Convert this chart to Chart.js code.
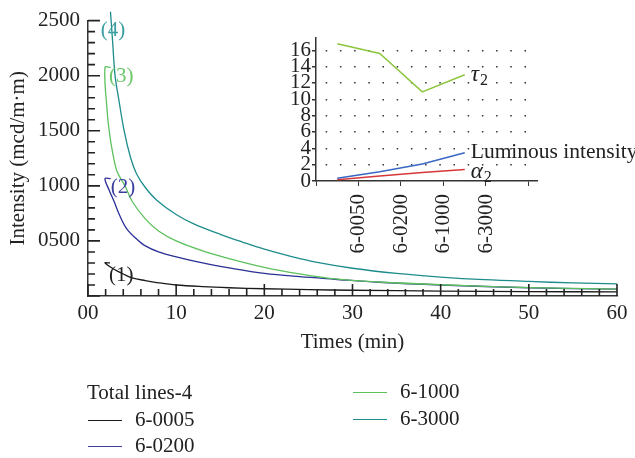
<!DOCTYPE html>
<html>
<head>
<meta charset="utf-8">
<script src="https://cdn.jsdelivr.net/npm/chart.js@4.4.0/dist/chart.umd.min.js"></script>
<style>
html, body { margin: 0; padding: 0; background: #fff; }
#wrap { position: relative; width: 635px; height: 458px; overflow: hidden; font-family: 'Liberation Serif', serif; color: #222; }
#main { position: absolute; left: 0; top: 0; }
#inset { position: absolute; left: 280px; top: 20px; }
.lg { position: absolute; font-size: 21px; line-height: 21px; white-space: nowrap; }
.sw { position: absolute; width: 34px; height: 0; border-top: 1.5px solid; }
</style>
</head>
<body>
<div id="wrap">
  <canvas id="main" width="635" height="458"></canvas>
  <canvas id="inset" width="355" height="250"></canvas>
  <div class="lg" style="left:87px; top:382px;">Total lines-4</div>
  <div class="sw" style="left:88px; top:420px; border-color:#1a1a1a;"></div>
  <div class="lg" style="left:135px; top:409px;">6-0005</div>
  <div class="sw" style="left:88px; top:446px; border-color:#3b3f9e;"></div>
  <div class="lg" style="left:135px; top:435px;">6-0200</div>
  <div class="sw" style="left:353px; top:392px; border-color:#5cc05c;"></div>
  <div class="lg" style="left:400px; top:381px;">6-1000</div>
  <div class="sw" style="left:353px; top:419px; border-color:#1e8c8c;"></div>
  <div class="lg" style="left:400px; top:408px;">6-3000</div>
</div>
<script>
Chart.defaults.font.family = "'Liberation Serif', serif";
Chart.defaults.color = '#222';

/* ── Main decay curves (time in min, intensity in mcd/m·m) ── */
const X_0005 = [2.5, 1.93, 3, 4, 5, 6.5, 8, 10, 13, 16, 20, 25, 30, 40, 50, 60];
const Y_0005 = [300, 300, 240, 200, 165, 140, 120, 100, 85, 75, 66, 58, 52, 45, 40, 38];

const X_0200 = [2.57, 1.93, 2.4, 2.95, 3.6, 4.4, 5.6, 6.4, 8, 9.8, 13, 16, 20, 24, 28, 33, 40, 50, 60];
const Y_0200 = [1065, 1065, 960, 860, 730, 610, 510, 460, 400, 360, 300, 255, 205, 175, 152, 125, 100, 75, 62];

const X_1000 = [2.57, 1.93, 2.15, 2.4, 2.8, 3.3, 4.2, 5, 6.5, 8, 10, 13, 16, 20, 24, 28, 33, 40, 50, 60];
const Y_1000 = [2075, 2075, 1700, 1500, 1300, 1130, 1000, 860, 700, 590, 500, 410, 340, 260, 200, 155, 127, 102, 76, 63];

const X_3000 = [2.55, 2.8, 3.07, 3.5, 4.1, 4.85, 5.5, 6.5, 7.8, 10, 12, 15, 17.5, 20, 23, 26, 30, 35, 40, 45, 50, 55, 60];
const Y_3000 = [2580, 2300, 2000, 1780, 1500, 1250, 1110, 985, 870, 740, 655, 560, 490, 425, 360, 305, 252, 205, 172, 148, 132, 119, 110];

/* ── Inset: fit parameters per sample ── */
const INSET_CATS = ['6-0050', '6-0200', '6-1000', '6-3000'];
const INSET_POS = [0.5, 1.5, 2.5, 3.5];
const TAU2 = [16.8, 15.6, 10.9, 13.0];
const LUMINOUS = [0.33, 1.12, 2.08, 3.46];
const ALPHA2 = [0.15, 0.6, 1.05, 1.4];

const pairs = (xs, ys) => xs.map((x, i) => ({ x, y: ys[i] }));

// (1)..(4) next to the start of each curve
const CURVE_TAGS = [
    { text: '(4)', x: 1.44, y: 2410, color: '#3a9ea0' },
    { text: '(3)', x: 2.39, y: 1989, color: '#6cc86a' },
    { text: '(2)', x: 2.58, y: 986, color: '#3a3ea0' },
    { text: '(1)', x: 2.39, y: 188, color: '#222' },
];

// inward tick marks (long on labelled values) + curve tags
const mainOverlay = {
    id: 'mainOverlay',
    afterDatasetsDraw(chart) {
        const { ctx, chartArea: a } = chart;
        const sx = chart.scales.x, sy = chart.scales.y;
        ctx.save();
        ctx.strokeStyle = '#222';
        ctx.lineWidth = 1.6;
        ctx.beginPath();
        sx.ticks.forEach(t => {
            const px = sx.getPixelForValue(t.value);
            const len = t.value % 10 === 0 ? 12 : 7;
            ctx.moveTo(px, a.bottom);
            ctx.lineTo(px, a.bottom - len);
        });
        sy.ticks.forEach(t => {
            const py = sy.getPixelForValue(t.value);
            const len = t.value % 500 === 0 ? 12 : 7;
            ctx.moveTo(a.left, py);
            ctx.lineTo(a.left + len, py);
        });
        ctx.stroke();

        ctx.font = "21px 'Liberation Serif', serif";
        ctx.textBaseline = 'middle';
        CURVE_TAGS.forEach(t => {
            ctx.fillStyle = t.color;
            ctx.fillText(t.text, sx.getPixelForValue(t.x), sy.getPixelForValue(t.y));
        });
        ctx.restore();
    }
};

new Chart(document.getElementById('main').getContext('2d'), {
    type: 'line',
    data: {
        datasets: [
            { data: pairs(X_0005, Y_0005), borderColor: '#1a1a1a' },
            { data: pairs(X_1000, Y_1000), borderColor: '#5cc05c' },
            { data: pairs(X_0200, Y_0200), borderColor: '#2a2f96' },
            { data: pairs(X_3000, Y_3000), borderColor: '#1e8c8c', clip: false },
        ],
    },
    options: {
        responsive: false,
        animation: false,
        layout: { padding: { left: 0, top: 17, right: 18, bottom: 102 } },
        elements: {
            point: { radius: 0 },
            line: { borderWidth: 1.3, tension: 0.35, fill: false },
        },
        plugins: { legend: { display: false }, tooltip: { enabled: false } },
        scales: {
            x: {
                type: 'linear', min: 0, max: 60,
                grid: { display: false, drawTicks: false },
                border: { color: '#333', width: 1.5 },
                ticks: {
                    stepSize: 2, autoSkip: false, maxRotation: 0, padding: 5,
                    font: { size: 21 },
                    callback: v => v % 10 === 0 ? (v === 0 ? '00' : String(v)) : '',
                },
                title: { display: true, text: 'Times (min)', font: { size: 21 }, padding: { top: 2, bottom: 1 } },
                afterFit: s => { s.height = 60; },
            },
            y: {
                type: 'linear', min: 0, max: 2500,
                grid: { display: false, drawTicks: false },
                border: { color: '#333', width: 1.5 },
                ticks: {
                    stepSize: 100, autoSkip: false, padding: 8,
                    font: { size: 21 },
                    callback: v => v % 500 === 0 && v > 0 ? (v === 500 ? '0500' : String(v)) : '',
                },
                title: { display: true, text: 'Intensity (mcd/m·m)', font: { size: 21 }, padding: { top: 6, bottom: 0 } },
                afterFit: s => { s.width = 88; },
            },
        },
    },
    plugins: [mainOverlay],
});

/* ── Inset chart ── */
const insetTags = {
    id: 'insetTags',
    afterDatasetsDraw(chart) {
        const { ctx } = chart;
        const sx = chart.scales.x, sy = chart.scales.y;
        const last = INSET_POS[INSET_POS.length - 1];
        const px = sx.getPixelForValue(last) + 6;
        ctx.save();
        ctx.fillStyle = '#222';
        ctx.textBaseline = 'middle';
        const greek = (sym, val) => {
            const py = sy.getPixelForValue(val);
            ctx.font = "italic 23px 'Liberation Serif', serif";
            ctx.fillText(sym, px, py);
            const w = ctx.measureText(sym).width;
            ctx.font = "16px 'Liberation Serif', serif";
            ctx.fillText('2', px + w + 1, py + 6);
        };
        greek('τ', TAU2[TAU2.length - 1]);
        greek('α', ALPHA2[ALPHA2.length - 1] - 0.3);
        ctx.font = "21.5px 'Liberation Serif', serif";
        ctx.fillText('Luminous intensity', px, sy.getPixelForValue(LUMINOUS[LUMINOUS.length - 1]));
        ctx.restore();
    }
};

new Chart(document.getElementById('inset').getContext('2d'), {
    type: 'line',
    data: {
        datasets: [
            { data: pairs(INSET_POS, TAU2), borderColor: '#8cc63f' },
            { data: pairs(INSET_POS, LUMINOUS), borderColor: '#3a66c4' },
            { data: pairs(INSET_POS, ALPHA2), borderColor: '#d6383a' },
        ],
    },
    options: {
        responsive: false,
        animation: false,
        layout: { padding: { left: 0, top: 18, right: 98, bottom: 14 } },
        elements: {
            point: { radius: 0 },
            line: { borderWidth: 1.5, tension: 0, fill: false },
        },
        plugins: { legend: { display: false }, tooltip: { enabled: false } },
        scales: {
            x: {
                type: 'linear', min: 0, max: 5.2,
                grid: { drawOnChartArea: false, drawTicks: true, tickLength: 5, tickColor: '#333' },
                border: { color: '#333', width: 1.5 },
                ticks: {
                    stepSize: 1, includeBounds: false, autoSkip: false,
                    minRotation: 90, maxRotation: 90, padding: 8,
                    font: { size: 21 },
                    callback: v => INSET_CATS[v - 1] || '',
                },
                afterFit: s => { s.height = 75; },
            },
            y: {
                type: 'linear', min: 0, max: 17.5,
                grid: {
                    drawTicks: true, tickLength: 4, tickColor: '#333', tickBorderDash: [],
                    lineWidth: 1.5,
                    color: ctx => ctx.tick && ctx.tick.value === 0 ? 'rgba(0,0,0,0)' : '#333',
                },
                border: { color: '#333', width: 1.5, dash: [1.5, 12.7], dashOffset: 5 },
                ticks: {
                    stepSize: 2, includeBounds: false, autoSkip: false, padding: 1,
                    font: { size: 21 },
                },
                afterFit: s => { s.width = 36; },
            },
        },
    },
    plugins: [insetTags],
});
</script>
</body>
</html>
